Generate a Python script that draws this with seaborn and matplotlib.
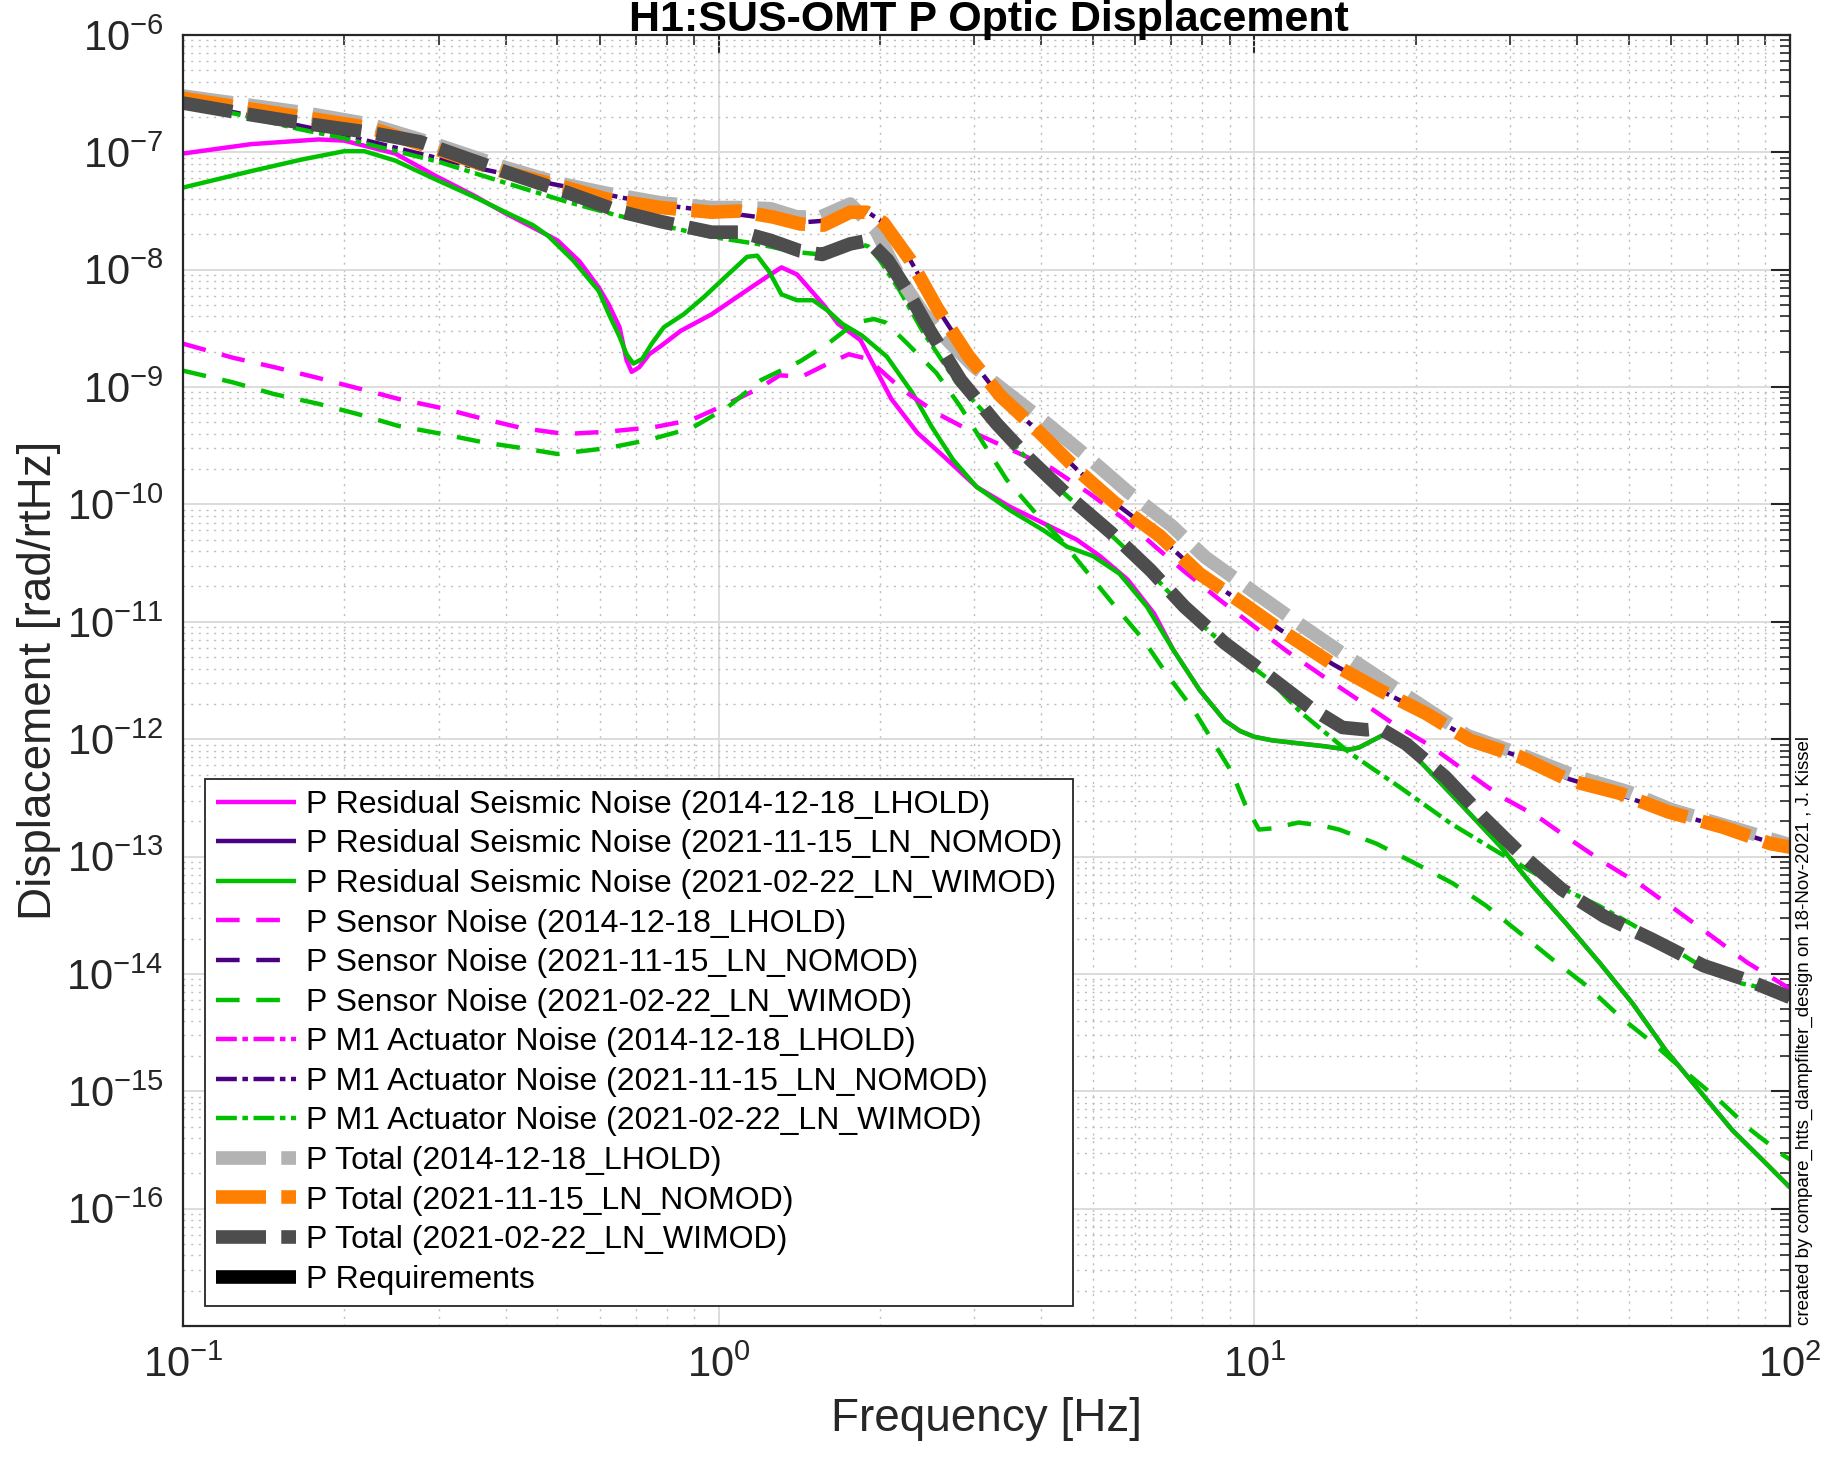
import numpy as np
import pandas as pd
import matplotlib
matplotlib.use("Agg")
import matplotlib.pyplot as plt
import seaborn as sns
from matplotlib.lines import Line2D
from matplotlib import font_manager as fm
from matplotlib.ticker import FixedLocator, LogLocator, FuncFormatter, NullFormatter

# ---------------- data (frequency [Hz], log10 displacement [rad/rtHz]) ----------------
resid_lhold_f = [0.1, 0.134, 0.179, 0.2, 0.249, 0.296, 0.35, 0.4, 0.45, 0.5, 0.55, 0.597, 0.624,
                 0.653, 0.673, 0.688, 0.711, 0.742, 0.78, 0.85, 0.97, 1.15, 1.24, 1.31, 1.4, 1.47,
                 1.57, 1.67, 1.84, 1.95, 2.1, 2.35, 2.63, 3.03, 3.5, 4.04, 4.66, 5.15, 5.8, 6.5,
                 7.06, 7.9, 8.8, 9.4, 10.0, 10.8, 11.8, 13.5, 15.0, 15.7, 17.3, 18.4, 20.3, 24.6, 28.9, 33.1,
                 38.2, 44.2, 50.8, 58.6, 67.6, 78.0, 90.0, 100.0]
resid_lhold_log = [-7.01, -6.93, -6.89, -6.90, -7.01, -7.20, -7.37, -7.52, -7.64, -7.75, -7.93, -8.15, -8.30,
                   -8.49, -8.77, -8.87, -8.83, -8.72, -8.65, -8.52, -8.38, -8.15, -8.05, -7.98, -8.04, -8.15,
                   -8.30, -8.46, -8.60, -8.82, -9.10, -9.39, -9.59, -9.85, -10.02, -10.16, -10.30, -10.44, -10.64, -10.93,
                   -11.24, -11.58, -11.84, -11.93, -11.98, -12.01, -12.03, -12.06, -12.09, -12.07, -11.97, -11.99, -12.18, -12.58, -12.92, -13.25,
                   -13.57, -13.91, -14.25, -14.65, -14.99, -15.33, -15.61, -15.82]

resid_wimod_f = [0.1, 0.134, 0.167, 0.2, 0.218, 0.249, 0.296, 0.35, 0.4, 0.45, 0.48, 0.535, 0.597, 0.624,
                 0.653, 0.673, 0.693, 0.72, 0.75, 0.79, 0.86, 0.94, 1.03, 1.13, 1.18, 1.24, 1.31, 1.4,
                 1.5, 1.6, 1.7, 1.85, 2.06, 2.3, 2.5, 2.74, 3.03, 3.5, 4.04, 4.47, 5.0, 5.6, 6.3,
                 7.06, 7.9, 8.8, 9.4, 10.0, 10.8, 11.8, 13.5, 15.0, 15.7, 17.3, 18.4, 20.3, 24.6, 28.9, 33.1,
                 38.2, 44.2, 50.8, 58.6, 67.6, 78.0, 90.0, 100.0]
resid_wimod_log = [-7.30, -7.16, -7.06, -6.99, -6.99, -7.07, -7.23, -7.38, -7.51, -7.62, -7.71, -7.92, -8.18, -8.38,
                   -8.57, -8.72, -8.80, -8.76, -8.63, -8.49, -8.38, -8.23, -8.06, -7.89, -7.88, -8.01, -8.21, -8.26,
                   -8.26, -8.35, -8.46, -8.56, -8.74, -9.05, -9.34, -9.62, -9.85, -10.05, -10.22, -10.36, -10.44, -10.59, -10.87,
                   -11.24, -11.58, -11.84, -11.93, -11.98, -12.01, -12.03, -12.06, -12.09, -12.07, -11.97, -11.99, -12.18, -12.58, -12.92, -13.25,
                   -13.57, -13.91, -14.25, -14.65, -14.99, -15.33, -15.61, -15.82]

sensor_lhold_f = [0.1, 0.124, 0.148, 0.178, 0.212, 0.252, 0.305, 0.363, 0.43, 0.517, 0.62, 0.76, 0.89,
                  1.04, 1.19, 1.3, 1.43, 1.6, 1.75, 1.9, 2.2, 2.57, 3.0, 3.5, 4.18, 4.9, 5.7, 6.57,
                  7.4, 8.6, 10.0, 11.5, 13.4, 15.7, 18.2, 21.2, 24.9, 28.9, 33.8, 39.3, 45.3, 53.0,
                  61.0, 71.5, 83.0, 97.0, 100.0]
sensor_lhold_log = [-8.63, -8.75, -8.83, -8.92, -9.01, -9.10, -9.18, -9.27, -9.35, -9.40, -9.38, -9.34, -9.28,
                    -9.14, -9.01, -8.90, -8.91, -8.80, -8.72, -8.76, -9.02, -9.23, -9.39, -9.53, -9.69, -9.90, -10.12, -10.37,
                    -10.57, -10.81, -11.04, -11.25, -11.46, -11.67, -11.87, -12.05, -12.28, -12.49, -12.66, -12.87, -13.06, -13.25,
                    -13.45, -13.68, -13.90, -14.09, -14.13]

sensor_wimod_f = [0.1, 0.124, 0.148, 0.178, 0.212, 0.252, 0.305, 0.363, 0.43, 0.5, 0.62, 0.74, 0.89,
                  1.04, 1.2, 1.42, 1.6, 1.8, 1.95, 2.05, 2.24, 2.55, 2.82, 3.12, 3.45, 3.9, 4.35, 4.9,
                  5.5, 6.2, 6.85, 7.7, 8.4, 9.1, 9.6, 10.2, 10.8, 12.1, 13.5, 14.4, 16.9, 20.0, 23.5,
                  27.1, 31.3, 36.1, 41.7, 48.0, 55.5, 64.0, 73.5, 84.5, 97.5, 100.0]
sensor_wimod_log = [-8.86, -8.96, -9.06, -9.14, -9.23, -9.33, -9.40, -9.47, -9.52, -9.57, -9.52, -9.45, -9.35,
                    -9.17, -8.94, -8.78, -8.63, -8.45, -8.42, -8.45, -8.62, -8.88, -9.16, -9.48, -9.79, -10.07, -10.30, -10.59,
                    -10.87, -11.15, -11.44, -11.75, -12.03, -12.29, -12.55, -12.77, -12.76, -12.71, -12.74, -12.77, -12.89, -13.06, -13.23,
                    -13.42, -13.65, -13.88, -14.10, -14.36, -14.59, -14.84, -15.07, -15.33, -15.55, -15.58]

m1_nomod_f = [0.1, 0.125, 0.195, 0.36, 0.49, 0.76, 0.97, 1.18, 1.4, 1.6, 1.8, 1.9, 2.03, 2.28, 2.56,
              2.92, 3.35, 3.98, 4.66, 5.5, 6.67, 7.9, 9.5, 11.2, 14.0, 17.1, 20.9, 25.3, 31.3, 38.7,
              48.0, 59.3, 75.0, 91.9, 100.0]
m1_nomod_log = [-6.58, -6.66, -6.84, -7.14, -7.27, -7.44, -7.50, -7.55, -7.60, -7.58, -7.50, -7.51, -7.60, -7.92, -8.33,
                -8.73, -9.08, -9.39, -9.70, -9.99, -10.28, -10.59, -10.84, -11.07, -11.36, -11.58, -11.78, -12.00, -12.15, -12.34,
                -12.47, -12.62, -12.75, -12.88, -12.92]

m1_wimod_f = [0.1, 0.125, 0.164, 0.2, 0.3, 0.4, 0.52, 0.65, 0.78, 0.97, 1.18, 1.4, 1.55, 1.68, 1.8, 1.9,
              2.0, 2.18, 2.4, 2.78, 3.3, 3.8, 4.5, 5.4, 6.4, 7.4, 8.8, 10.7, 12.2, 15.1, 18.7, 23.3,
              28.7, 36.0, 44.0, 55.5, 68.0, 81.0, 98.0, 100.0]
m1_wimod_log = [-6.60, -6.67, -6.80, -6.88, -7.08, -7.26, -7.42, -7.54, -7.62, -7.72, -7.78, -7.85, -7.87, -7.80, -7.77, -7.80,
                -7.92, -8.18, -8.52, -8.96, -9.33, -9.63, -9.94, -10.26, -10.58, -10.89, -11.20, -11.50, -11.77, -12.12, -12.41, -12.72,
                -12.97, -13.23, -13.42, -13.68, -13.93, -14.08, -14.16, -14.18]

total_lhold_f = [0.1, 0.167, 0.223, 0.296, 0.4, 0.5, 0.62, 0.78, 0.97, 1.09, 1.25, 1.4, 1.55, 1.76, 1.86,
                 1.97, 2.07, 2.2, 2.41, 2.7, 2.99, 3.35, 4.1, 4.9, 5.8, 7.0, 8.1, 9.8, 11.8, 14.5,
                 20.0, 25.0, 31.0, 40.0, 50.0, 60.0, 75.0, 100.0]
total_lhold_log = [-6.52, -6.66, -6.76, -6.93, -7.13, -7.26, -7.35, -7.43, -7.47, -7.47, -7.48, -7.55, -7.55, -7.44, -7.55,
                   -7.67, -7.87, -8.10, -8.37, -8.62, -8.82, -9.00, -9.31, -9.60, -9.89, -10.18, -10.45, -10.72, -10.98, -11.26,
                   -11.68, -11.97, -12.12, -12.32, -12.45, -12.60, -12.73, -12.90]

total_nomod_f = [0.1, 0.167, 0.223, 0.296, 0.4, 0.5, 0.62, 0.78, 0.97, 1.09, 1.26, 1.42, 1.57, 1.76, 1.89,
                 2.03, 2.28, 2.56, 2.92, 3.35, 3.98, 4.66, 5.5, 6.67, 7.9, 9.5, 11.2, 14.0, 17.1, 20.9,
                 25.3, 31.3, 38.7, 48.0, 59.3, 75.0, 91.9, 100.0]
total_nomod_log = [-6.54, -6.70, -6.79, -6.97, -7.17, -7.28, -7.40, -7.47, -7.51, -7.50, -7.55, -7.61, -7.62, -7.51, -7.51,
                   -7.60, -7.92, -8.33, -8.73, -9.07, -9.39, -9.70, -9.99, -10.27, -10.59, -10.84, -11.07, -11.36, -11.58, -11.78,
                   -12.01, -12.15, -12.35, -12.46, -12.62, -12.75, -12.89, -12.92]

total_wimod_f = [0.1, 0.134, 0.167, 0.223, 0.277, 0.338, 0.42, 0.52, 0.65, 0.78, 0.97, 1.1, 1.25, 1.42, 1.56,
                 1.76, 1.9, 2.07, 2.25, 2.48, 2.83, 3.3, 3.8, 4.5, 5.4, 6.4, 7.4, 8.8, 10.7, 12.7, 14.6,
                 16.2, 17.2, 19.2, 22.7, 26.7, 31.3, 37.5, 45.0, 55.5, 69.0, 84.0, 100.0]
total_wimod_log = [-6.58, -6.68, -6.75, -6.83, -6.91, -7.05, -7.20, -7.34, -7.50, -7.59, -7.68, -7.68, -7.75, -7.84, -7.87,
                   -7.78, -7.75, -7.92, -8.18, -8.52, -8.94, -9.31, -9.61, -9.93, -10.24, -10.56, -10.87, -11.18, -11.47, -11.73, -11.90,
                   -11.92, -11.91, -12.04, -12.32, -12.66, -12.97, -13.28, -13.51, -13.71, -13.93, -14.06, -14.20]

legend_labels = [
    "P Residual Seismic Noise (2014-12-18_LHOLD)",
    "P Residual Seismic Noise (2021-11-15_LN_NOMOD)",
    "P Residual Seismic Noise (2021-02-22_LN_WIMOD)",
    "P Sensor Noise (2014-12-18_LHOLD)",
    "P Sensor Noise (2021-11-15_LN_NOMOD)",
    "P Sensor Noise (2021-02-22_LN_WIMOD)",
    "P M1 Actuator Noise (2014-12-18_LHOLD)",
    "P M1 Actuator Noise (2021-11-15_LN_NOMOD)",
    "P M1 Actuator Noise (2021-02-22_LN_WIMOD)",
    "P Total (2014-12-18_LHOLD)",
    "P Total (2021-11-15_LN_NOMOD)",
    "P Total (2021-02-22_LN_WIMOD)",
    "P Requirements",
]

x_ticks = [0.1, 1, 10, 100]
y_ticks = [1e-16, 1e-15, 1e-14, 1e-13, 1e-12, 1e-11, 1e-10, 1e-9, 1e-8, 1e-7, 1e-6]

# ---------------- styling ----------------
sns.set_theme(style="white")
names = {f.name for f in fm.fontManager.ttflist}
base = "Liberation Sans Narrow" if "Liberation Sans Narrow" in names else "Liberation Sans"
plt.rcParams["font.family"] = [base, "DejaVu Sans"]
plt.rcParams["mathtext.fontset"] = "custom"
plt.rcParams["mathtext.rm"] = base
plt.rcParams["mathtext.it"] = base
plt.rcParams["lines.scale_dashes"] = False

MAG = "#ff00ff"
PUR = "#4b0082"
GRN = "#00c000"
LGR = "#b3b3b3"
ORA = "#ff8000"
DGR = "#4d4d4d"

THIN = 3.2
THICK = 9.8
DASH = (0, (17, 12))
DASHDOT = (0, (15, 4, 4, 4))
TOTDASH = (0, (36, 11))

styles = [
    dict(color=MAG, lw=THIN, ls="-"),
    dict(color=PUR, lw=THIN, ls="-"),
    dict(color=GRN, lw=THIN, ls="-"),
    dict(color=MAG, lw=THIN, ls=DASH),
    dict(color=PUR, lw=THIN, ls=DASH),
    dict(color=GRN, lw=THIN, ls=DASH),
    dict(color=MAG, lw=THIN, ls=DASHDOT),
    dict(color=PUR, lw=THIN, ls=DASHDOT),
    dict(color=GRN, lw=THIN, ls=DASHDOT),
    dict(color=LGR, lw=THICK, ls=TOTDASH),
    dict(color=ORA, lw=THICK, ls=TOTDASH),
    dict(color=DGR, lw=THICK, ls=TOTDASH),
    dict(color="black", lw=THICK, ls="-"),
]

fig = plt.figure(figsize=(18.25, 14.63), dpi=100)
ax = fig.add_axes([183 / 1825, 1 - 1326 / 1463, (1790 - 183) / 1825, (1326 - 35) / 1463])

visible = [
    (resid_lhold_f, resid_lhold_log, 0),
    (resid_wimod_f, resid_wimod_log, 2),
    (sensor_lhold_f, sensor_lhold_log, 3),
    (sensor_wimod_f, sensor_wimod_log, 5),
    (m1_nomod_f, m1_nomod_log, 7),
    (m1_wimod_f, m1_wimod_log, 8),
    (total_lhold_f, total_lhold_log, 9),
    (total_nomod_f, total_nomod_log, 10),
    (total_wimod_f, total_wimod_log, 11),
]

for f, lg, idx in visible:
    st = styles[idx]
    df = pd.DataFrame({"f": f, "d": np.power(10.0, lg)})
    sns.lineplot(data=df, x="f", y="d", ax=ax, color=st["color"], linewidth=st["lw"],
                 linestyle=st["ls"], estimator=None, sort=False, legend=False,
                 dash_capstyle="butt", solid_capstyle="butt", solid_joinstyle="round")

ax.set_xscale("log")
ax.set_yscale("log")
ax.set_xlim(0.1, 100)
ax.set_ylim(1e-17, 1e-6)

def expfmt(v, pos):
    return r"$\mathregular{10^{%d}}$" % int(round(np.log10(v)))

ax.xaxis.set_major_locator(FixedLocator(x_ticks))
ax.yaxis.set_major_locator(FixedLocator(y_ticks))
ax.xaxis.set_major_formatter(FuncFormatter(expfmt))
ax.yaxis.set_major_formatter(FuncFormatter(expfmt))
ax.xaxis.set_minor_locator(LogLocator(base=10, subs=np.arange(2, 10), numticks=50))
ax.yaxis.set_minor_locator(LogLocator(base=10, subs=np.arange(2, 10), numticks=50))
ax.xaxis.set_minor_formatter(NullFormatter())
ax.yaxis.set_minor_formatter(NullFormatter())

ax.tick_params(which="major", direction="in", length=14, width=1.5, top=True, right=True,
               labelsize=30, colors="#262626", pad=14)
ax.tick_params(which="minor", direction="in", length=7, width=1.2, top=True, right=True,
               colors="#262626")
ax.grid(which="major", color="#dcdcdc", lw=1.4, ls="-")
ax.grid(which="minor", color="#bdbdbd", lw=1.0, ls=(0, (1.5, 4)))
ax.set_axisbelow(True)
for sp in ax.spines.values():
    sp.set_color("#262626")
    sp.set_linewidth(1.6)

ax.set_xlabel("Frequency [Hz]", fontsize=33, color="#262626", labelpad=8)
ax.set_ylabel("Displacement [rad/rtHz]", fontsize=33, color="#262626", labelpad=4)

handles = []
for st, lab in zip(styles, legend_labels):
    handles.append(Line2D([], [], color=st["color"], lw=st["lw"], ls=st["ls"],
                          dash_capstyle="butt", solid_capstyle="butt", label=lab))
leg = ax.legend(handles=handles, loc="lower left", bbox_to_anchor=(0.0137, 0.0155),
                borderaxespad=0, fontsize=23, frameon=True, fancybox=False, framealpha=1,
                edgecolor="#262626", handlelength=2.5, handletextpad=0.3, borderpad=0.35,
                labelspacing=0.30)
leg.get_frame().set_linewidth(1.3)
for t in leg.get_texts():
    t.set_color("black")

fig.text(0.542, 0.9785, "H1:SUS-OMT P Optic Displacement", ha="center", va="baseline",
         fontsize=31, fontweight="bold", color="black")
fig.text(0.9885, 0.094, "created by compare_htts_dampfilter_design on 18-Nov-2021 , J. Kissel",
         rotation=90, ha="center", va="bottom", fontsize=13.5, color="black")

fig.savefig("out.png", dpi=100)
